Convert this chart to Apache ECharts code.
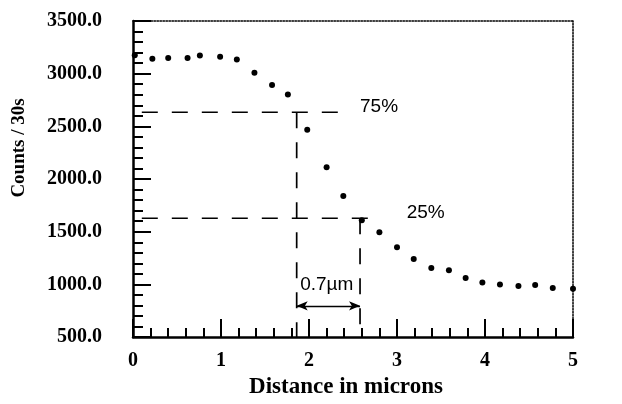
<!DOCTYPE html>
<html>
<head>
<meta charset="utf-8">
<script src="https://cdn.jsdelivr.net/npm/echarts@6/dist/echarts.min.js"></script>
<style>
  html, body { margin: 0; padding: 0; background: #fff; }
  #echart { width: 622px; height: 404px; }
</style>
</head>
<body>
<div id="echart"></div>
<script>
// measured profile (distance in microns, counts per 30 s)
const distance = [0.02, 0.22, 0.40, 0.62, 0.76, 0.99, 1.18, 1.38, 1.58, 1.76,
  1.98, 2.20, 2.39, 2.60, 2.80, 3.00, 3.19, 3.39, 3.59, 3.78,
  3.97, 4.17, 4.38, 4.57, 4.77, 5.00];
const counts = [3175, 3141, 3150, 3150, 3172, 3160, 3134, 3010, 2893, 2803,
  2469, 2112, 1838, 1609, 1494, 1353, 1241, 1156, 1135, 1062,
  1019, 1000, 984, 994, 966, 959];

// 75% / 25% guide lines
const guide75 = [[0.1, 2634], [2.4, 2634]];
const drop75 = [[1.86, 2634], [1.86, 500]];
const guide25 = [[0.1, 1628], [2.73, 1628]];
const drop25 = [[2.58, 1628], [2.58, 620]];
const spanArrow = [[1.86, 797], [2.58, 797]];

// text notes [x, y, text]
const notes = [[2.58, 2684, '75%'], [3.11, 1681, '25%'], [1.90, 997, '0.7µm']];

const serif = '"Liberation Serif", "Times New Roman", serif';
const sans = '"Liberation Sans", Arial, sans-serif';

const chart = echarts.init(document.getElementById('echart'));

const dashed = function (pts) {
  return {
    type: 'line',
    data: pts,
    symbol: 'none',
    silent: true,
    lineStyle: { color: '#000', width: 1.7, type: [16, 14] },
    z: 3
  };
};

chart.setOption({
  animation: false,
  backgroundColor: '#fff',
  grid: { left: 133, top: 21, right: 49, bottom: 63 },
  xAxis: [{
    type: 'value',
    min: 0, max: 5, interval: 1,
    name: 'Distance in microns',
    nameLocation: 'middle',
    nameGap: 36,
    nameTextStyle: { fontFamily: serif, fontWeight: 'bold', fontSize: 23, color: '#000', padding: [0, 14, 0, 0] },
    axisLine: { onZero: false, lineStyle: { color: '#000', width: 2.5 } },
    axisTick: { inside: true, length: 18, lineStyle: { color: '#000', width: 2 } },
    minorTick: { show: true, splitNumber: 5, length: 9, lineStyle: { color: '#000', width: 2 } },
    axisLabel: { margin: 14, fontFamily: serif, fontWeight: 'bold', fontSize: 20, color: '#000' },
    splitLine: { show: false }
  }, {
    type: 'value', position: 'top',
    min: 0, max: 5,
    axisLine: { onZero: false, lineStyle: { color: '#000', width: 1.5, type: 'dotted' } },
    axisTick: { show: false }, axisLabel: { show: false }, splitLine: { show: false }
  }],
  yAxis: [{
    type: 'value',
    min: 500, max: 3500, interval: 500,
    axisLine: { onZero: false, lineStyle: { color: '#000', width: 2.5 } },
    axisTick: { inside: true, length: 18, lineStyle: { color: '#000', width: 2 } },
    minorTick: { show: true, splitNumber: 5, length: 10, lineStyle: { color: '#000', width: 2 } },
    axisLabel: {
      margin: 31, fontFamily: serif, fontWeight: 'bold', fontSize: 20, color: '#000',
      formatter: function (v) { return v.toFixed(1); }
    },
    splitLine: { show: false }
  }, {
    type: 'value', position: 'right',
    min: 500, max: 3500,
    axisLine: { show: true, onZero: false, lineStyle: { color: '#000', width: 1.5, type: 'dotted' } },
    axisTick: { show: false }, axisLabel: { show: false }, splitLine: { show: false }
  }],
  graphic: [{
    type: 'text',
    x: 19, y: 148,
    rotation: Math.PI / 2,
    style: {
      text: 'Counts / 30s',
      fontFamily: serif,
      fontWeight: 'bold',
      fontSize: 19,
      fill: '#000',
      align: 'center',
      verticalAlign: 'middle'
    }
  }],
  series: [
    dashed(guide75),
    dashed(drop75),
    dashed(guide25),
    dashed(drop25),
    {
      type: 'line',
      data: spanArrow,
      symbol: 'none',
      lineStyle: { width: 0 },
      silent: true,
      markLine: {
        silent: true,
        symbol: ['arrow', 'arrow'],
        symbolSize: [7, 11],
        label: { show: false },
        lineStyle: { color: '#000', width: 1.3, type: 'solid' },
        data: [[{ coord: spanArrow[0] }, { coord: spanArrow[1] }]]
      }
    },
    {
      type: 'scatter',
      data: distance.map(function (d, i) { return [d, counts[i]]; }),
      symbol: 'circle',
      symbolSize: 6,
      itemStyle: { color: '#000', opacity: 1 },
      z: 5
    },
    {
      type: 'scatter',
      data: notes,
      symbolSize: 0,
      silent: true,
      itemStyle: { opacity: 1 },
      label: {
        show: true,
        position: 'right',
        distance: 0,
        fontFamily: sans,
        fontSize: 19,
        color: '#000',
        formatter: function (p) { return p.value[2]; }
      }
    }
  ]
});
</script>
</body>
</html>
